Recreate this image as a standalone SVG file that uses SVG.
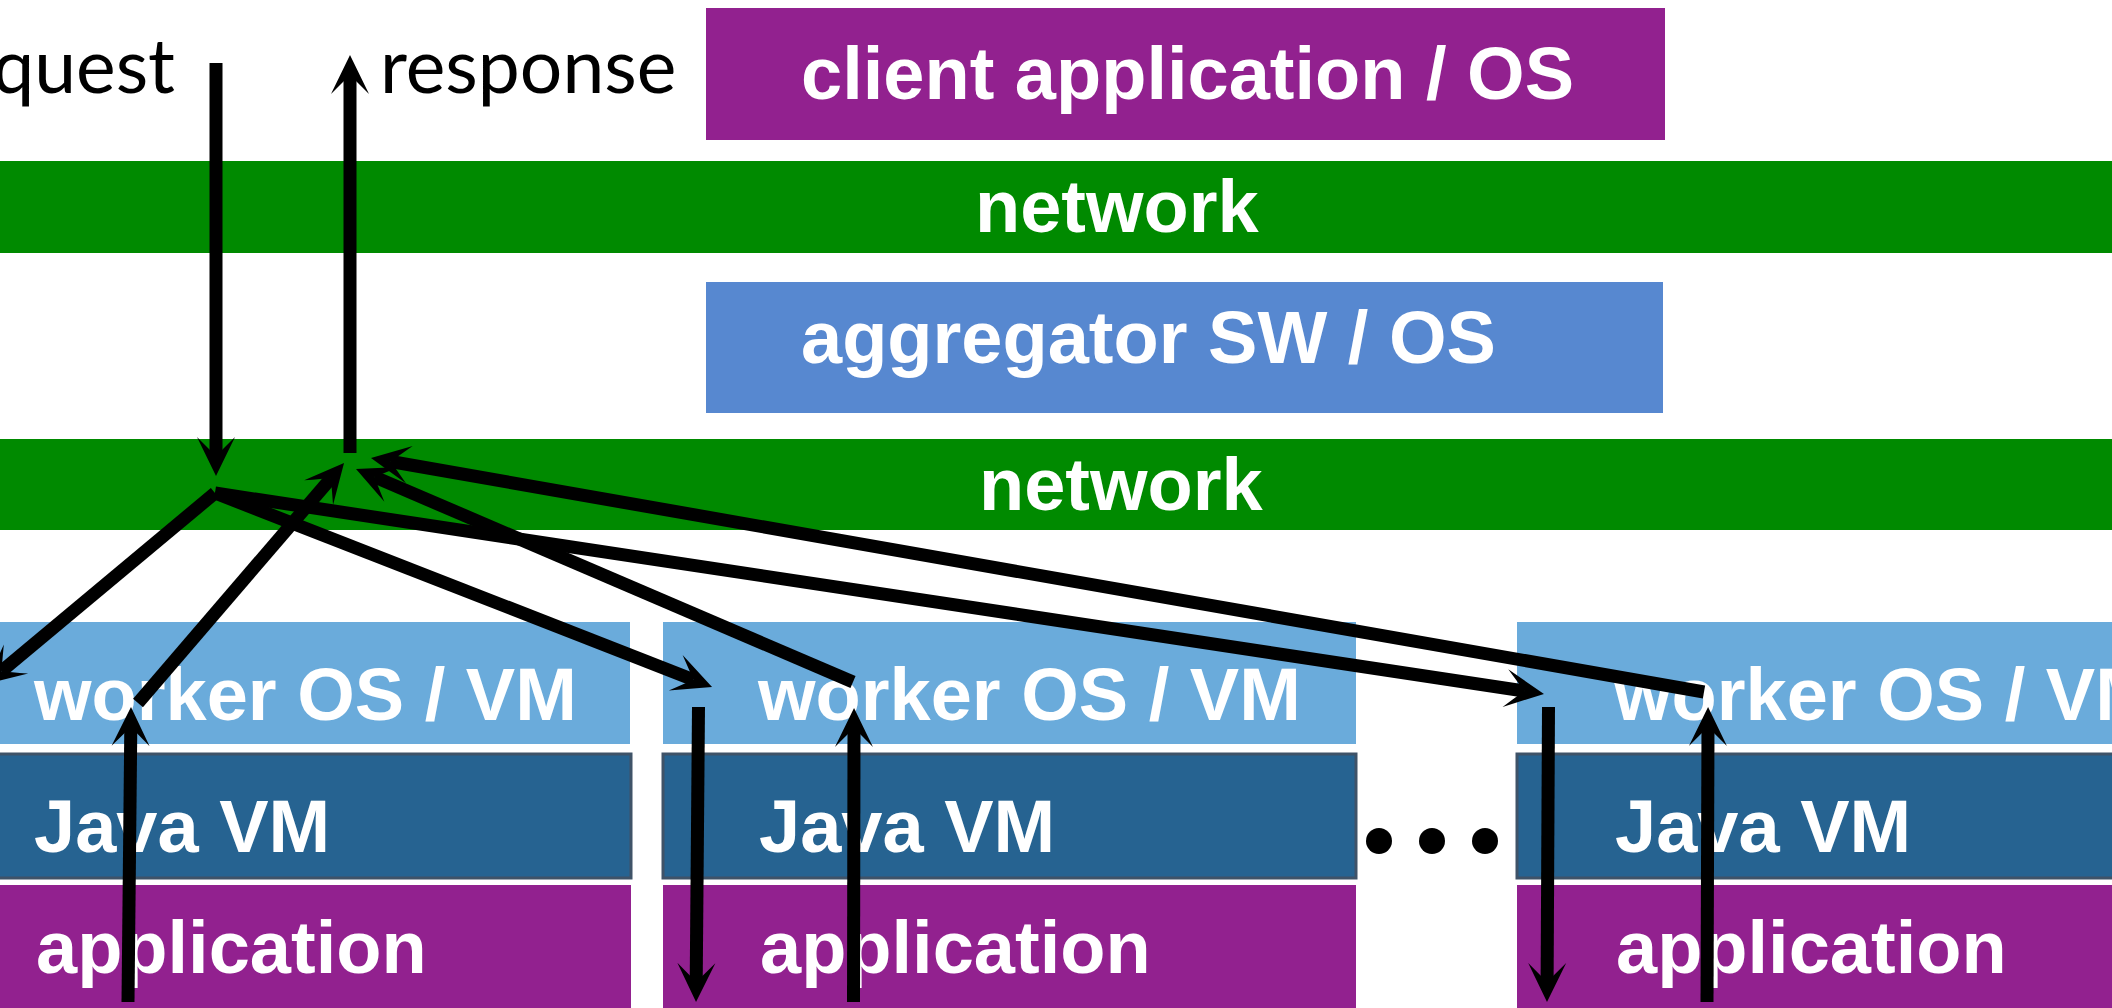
<svg xmlns="http://www.w3.org/2000/svg" width="2112" height="1008" viewBox="0 0 2112 1008">
<style>
.lbl{font-family:"Liberation Sans",Arial,sans-serif;font-weight:bold;font-size:74px;fill:#fff}
.note{font-family:Lato,"Open Sans",sans-serif;font-size:75px;fill:#000}
.purple{fill:#92218F}
.green{fill:#008A00}
.agg{fill:#5788D0}
.wos{fill:#6AABDB}
.jvm{fill:#266391;stroke:#3F5368;stroke-width:3}
.arr{stroke:#000;stroke-width:13;fill:none;stroke-linecap:butt}
</style>
<defs>
<marker id="ah" markerUnits="userSpaceOnUse" markerWidth="80" markerHeight="80" refX="0" refY="0" orient="auto" overflow="visible" viewBox="-40 -40 80 80">
<path d="M20,0 L-19,-19 Q-6,-6 0,0 Q-6,6 -19,19 Z" fill="#000"/>
</marker>
</defs>
<rect width="2112" height="1008" fill="#fff"/>
<g id="request-label"><text class="note" x="175" y="93" text-anchor="end">request</text></g>
<g id="response-label"><text class="note" x="380" y="93">response</text></g>
<g id="client"><rect class="purple" x="706" y="8" width="959" height="132"/><text class="lbl" x="801" y="99">client application / OS</text></g>
<g id="network1"><rect class="green" x="0" y="161" width="2112" height="92"/><text class="lbl" x="975" y="232">network</text></g>
<g id="aggregator"><rect class="agg" x="706" y="282" width="957" height="131"/><text class="lbl" x="801" y="363">aggregator SW / OS</text></g>
<g id="network2"><rect class="green" x="0" y="439" width="2112" height="91"/><text class="lbl" x="979" y="510">network</text></g>
<g id="worker1">
<rect class="wos" x="-62" y="622" width="692" height="122"/><text class="lbl" x="34" y="720">worker OS / VM</text>
<rect class="jvm" x="-62" y="754" width="693" height="124"/><text class="lbl" x="34" y="852">Java VM</text>
<rect class="purple" x="-62" y="885" width="693" height="130"/><text class="lbl" x="36" y="973">application</text>
</g>
<g id="worker2">
<rect class="wos" x="663" y="622" width="693" height="122"/><text class="lbl" x="758" y="720">worker OS / VM</text>
<rect class="jvm" x="663" y="754" width="693" height="124"/><text class="lbl" x="759" y="852">Java VM</text>
<rect class="purple" x="663" y="885" width="693" height="130"/><text class="lbl" x="760" y="973">application</text>
</g>
<g id="worker3">
<rect class="wos" x="1517" y="622" width="693" height="122"/><text class="lbl" x="1614" y="720">worker OS / VM</text>
<rect class="jvm" x="1517" y="754" width="693" height="124"/><text class="lbl" x="1615" y="852">Java VM</text>
<rect class="purple" x="1517" y="885" width="693" height="130"/><text class="lbl" x="1616" y="973">application</text>
</g>
<g id="ellipsis" fill="#000">
<circle cx="1379" cy="841" r="13"/><circle cx="1432" cy="841" r="13"/><circle cx="1485" cy="841" r="13"/>
</g>
<g id="connectors">
<line class="arr" x1="216" y1="63" x2="216" y2="456" marker-end="url(#ah)"/>
<line class="arr" x1="350" y1="453" x2="350" y2="75" marker-end="url(#ah)"/>
<line class="arr" x1="215" y1="493" x2="1.4" y2="671.2" marker-end="url(#ah)"/>
<line class="arr" x1="215" y1="493" x2="693.4" y2="679.7" marker-end="url(#ah)"/>
<line class="arr" x1="215" y1="493" x2="1524.2" y2="691" marker-end="url(#ah)"/>
<line class="arr" x1="128" y1="1002" x2="130.8" y2="727" marker-end="url(#ah)"/>
<line class="arr" x1="138" y1="703" x2="331" y2="478.2" marker-end="url(#ah)"/>
<line class="arr" x1="698.5" y1="707" x2="696.2" y2="982" marker-end="url(#ah)"/>
<line class="arr" x1="853.5" y1="1002" x2="854" y2="728" marker-end="url(#ah)"/>
<line class="arr" x1="853" y1="682" x2="374.4" y2="476.9" marker-end="url(#ah)"/>
<line class="arr" x1="1548.5" y1="707" x2="1547.1" y2="982" marker-end="url(#ah)"/>
<line class="arr" x1="1707" y1="1002" x2="1708" y2="727" marker-end="url(#ah)"/>
<line class="arr" x1="1704" y1="692" x2="390.7" y2="461.5" marker-end="url(#ah)"/>
</g>
</svg>
